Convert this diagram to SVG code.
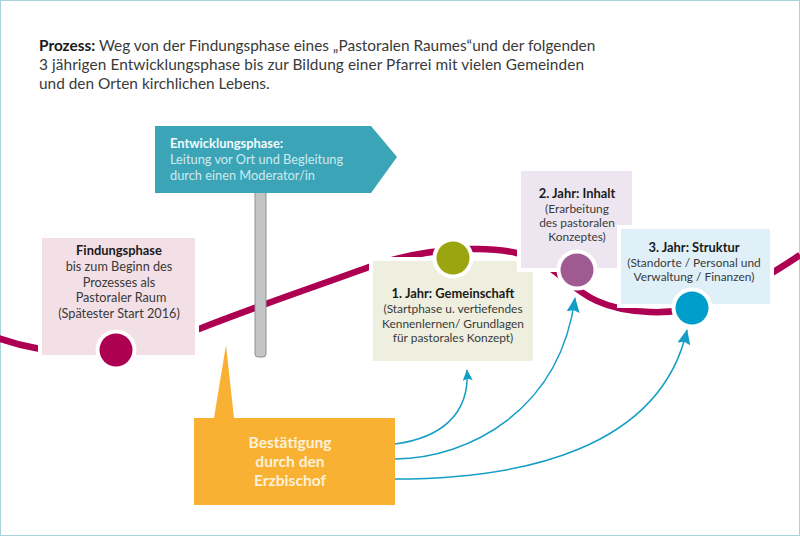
<svg xmlns="http://www.w3.org/2000/svg" width="800" height="536" viewBox="0 0 800 536">
<style>
text{font-family:"Lato","Open Sans","Liberation Sans",sans-serif;fill:#3a3a3a}
.b{font-weight:700;fill:#1a1a1a}
.h{font-size:15.4px}
.n{font-size:12.7px;text-anchor:middle}
.s{font-size:11.9px;text-anchor:middle}
.nb{font-size:12.9px}
.sb{font-size:12.9px}
.box,.dot{stroke:#fff;stroke-width:8;paint-order:stroke}
.arr{fill:none;stroke:#129ec6;stroke-width:1.5}
.sg{font-size:12.8px;fill:#cfe9ee}
.sgb{font-size:12.9px;font-weight:700;fill:#f2fafb}
.o{font-size:15.6px;fill:#fdf1d8;text-anchor:middle;font-weight:700}
</style>
<defs>
<marker id="ah" viewBox="0 0 10 10" refX="9.5" refY="5" markerWidth="15" markerHeight="13" markerUnits="userSpaceOnUse" orient="auto" preserveAspectRatio="none"><path d="M0,0L10,5L0,10L1.5,5Z" fill="#129ec6"/></marker>
<marker id="ahs" viewBox="0 0 10 10" refX="9.5" refY="5" markerWidth="11" markerHeight="10" markerUnits="userSpaceOnUse" orient="auto" preserveAspectRatio="none"><path d="M0,0L10,5L0,10L1.5,5Z" fill="#129ec6"/></marker>
</defs>
<rect x="0.5" y="0.5" width="799" height="535" fill="#fff" stroke="#a6d3dc" stroke-width="1"/>
<g id="title">
<text class="h" x="39" y="51"><tspan class="b">Prozess:</tspan> Weg von der Findungsphase eines „Pastoralen Raumes“und der folgenden</text>
<text class="h" x="39" y="70" textLength="545">3 jährigen Entwicklungsphase bis zur Bildung einer Pfarrei mit vielen Gemeinden</text>
<text class="h" x="39" y="89">und den Orten kirchlichen Lebens.</text>
</g>
<g id="connectors">
<path id="curve" d="M-5,337C30,350 70,356 116,350C150,346 175,338 199,329C260,305 320,285 369,267C400,256 430,250 470,249C510,248 530,255 550,268C575,285 590,310 650,312C700,314 740,295 800,255" fill="none" stroke="#ae0052" stroke-width="6.5"/>
</g>
<g id="entwicklungsphase">
<rect x="255" y="190" width="11" height="167" rx="3" fill="#c2c4c6" stroke="#8f9193" stroke-width="1"/>
<path d="M155,126H371L397,157L371,193H155Z" fill="#3ba5b7"/>
<text class="sgb" x="170" y="148">Entwicklungsphase:</text>
<text class="sg" x="170" y="164">Leitung vor Ort und Begleitung</text>
<text class="sg" x="170" y="180">durch einen Moderator/in</text>
</g>
<g id="findungsphase">
<rect class="box" x="42" y="238" width="153" height="117" fill="#f3dfe6"/>
<circle class="dot" cx="116" cy="350" r="16.5" fill="#ae0052"/>
<text class="n nb b" x="119" y="255">Findungsphase</text>
<text class="n" x="119" y="271">bis zum Beginn des</text>
<text class="n" x="119" y="287">Prozesses als</text>
<text class="n" x="121" y="302">Pastoraler Raum</text>
<text class="n" x="119" y="318">(Spätester Start 2016)</text>
</g>
<g id="jahr1">
<rect class="box" x="373" y="261" width="160" height="100" fill="#eeefdf"/>
<circle class="dot" cx="453" cy="258" r="16.5" fill="#9aa50f"/>
<text class="s sb b" x="453" y="298">1. Jahr: Gemeinschaft</text>
<text class="s" x="453" y="313">(Startphase u. vertiefendes</text>
<text class="s" x="453" y="328">Kennenlernen/ Grundlagen</text>
<text class="s" x="453" y="342">für pastorales Konzept)</text>
</g>
<g id="jahr2">
<rect class="box" x="521" y="171" width="111" height="97" fill="#ede6f0"/>
<circle class="dot" cx="577" cy="270" r="16.5" fill="#a05a92"/>
<text class="s sb b" x="577" y="198">2. Jahr: Inhalt</text>
<text class="s" x="577" y="213">(Erarbeitung</text>
<text class="s" x="577" y="227">des pastoralen</text>
<text class="s" x="577" y="241">Konzeptes)</text>
</g>
<g id="jahr3">
<rect class="box" x="621" y="229" width="149" height="75" fill="#e0f0f9"/>
<circle class="dot" cx="692" cy="308" r="16.5" fill="#009ecb"/>
<text class="s sb b" x="694" y="252">3. Jahr: Struktur</text>
<text class="s" x="694" y="267">(Standorte / Personal und</text>
<text class="s" x="694" y="281">Verwaltung / Finanzen)</text>
</g>
<g id="bestaetigung">
<path d="M226,345L234,418H395V505H194V418H214Z" fill="#f8b133"/>
<text class="o" x="290" y="448">Bestätigung</text>
<text class="o" x="290" y="467">durch den</text>
<text class="o" x="290" y="486">Erzbischof</text>
</g>
<g id="arrows">
<path class="arr" marker-end="url(#ahs)" d="M395,444C440,438 470,415 467,370"/>
<path class="arr" marker-end="url(#ah)" d="M395,459C470,458 560,410 575,298"/>
<path class="arr" marker-end="url(#ah)" d="M395,479C520,479 660,450 687,330"/>
</g>
</svg>
